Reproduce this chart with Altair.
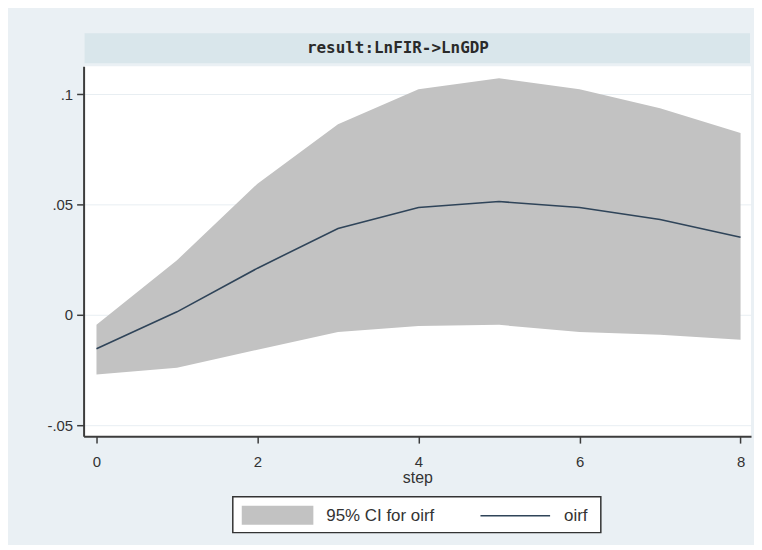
import altair as alt
import pandas as pd

# ---- data ----
steps = [0, 1, 2, 3, 4, 5, 6, 7, 8]
oirf = [-0.0153, 0.0014, 0.0212, 0.0392, 0.0487, 0.0514, 0.0487, 0.0433, 0.0352]
ci_upper = [-0.0045, 0.0248, 0.0595, 0.0865, 0.1023, 0.1073, 0.1023, 0.0937, 0.0825]
ci_lower = [-0.0270, -0.0239, -0.0158, -0.0077, -0.0050, -0.0045, -0.0077, -0.0090, -0.0113]

x_ticks = [0, 2, 4, 6, 8]
y_ticks = [-0.05, 0, 0.05, 0.1]
y_tick_labels = ["-.05", "0", ".05", ".1"]
panel_title = "result:LnFIR->LnGDP"
x_title = "step"
legend_labels = ["95% CI for oirf", "oirf"]

df = pd.DataFrame({"step": steps, "oirf": oirf, "lo": ci_lower, "hi": ci_upper})
one = pd.DataFrame({"t": [panel_title]})

W, H = 671, 372
x_scale = alt.Scale(domain=[-0.16, 8.13], nice=False, zero=False)
y_scale = alt.Scale(domain=[-0.05496, 0.1128], nice=False, zero=False)

label_expr = ""
for v, lab in zip(y_ticks, y_tick_labels):
    label_expr += f"abs(datum.value - ({v})) < 1e-9 ? '{lab}' : "
label_expr += "''"

axis_col = "#3c3c3c"

band = alt.Chart(df).mark_area(color="#c2c2c2", opacity=1).encode(
    x=alt.X("step:Q", scale=x_scale,
            axis=alt.Axis(values=x_ticks, format="d", title=x_title, grid=False,
                          labelFontSize=15, labelColor="#333", labelPadding=12,
                          tickSize=7, tickColor=axis_col, tickWidth=1.5,
                          domainColor=axis_col, domainWidth=2,
                          titleFontSize=16, titleFontWeight="normal",
                          titleColor="#333", titlePadding=0)),
    y=alt.Y("lo:Q", scale=y_scale,
            axis=alt.Axis(values=y_ticks, labelExpr=label_expr, title=None,
                          labelFontSize=15, labelColor="#333", labelPadding=4,
                          tickSize=7, tickColor=axis_col, tickWidth=1.5,
                          domainColor=axis_col, domainWidth=2,
                          grid=True, gridColor="#e8eef2", gridWidth=1)),
    y2="hi:Q",
)

line = alt.Chart(df).mark_line(color="#2f4459", strokeWidth=1.6).encode(
    x=alt.X("step:Q", scale=x_scale),
    y=alt.Y("oirf:Q", scale=y_scale),
)

strip = alt.Chart(one).mark_rect(fill="#d9e6eb").encode(
    x=alt.value(1), x2=alt.value(670), y=alt.value(-33), y2=alt.value(-3)
)
strip_text = alt.Chart(one).mark_text(
    font="DejaVu Sans Mono", fontSize=16, fontWeight="bold", color="#2a2a2a",
    baseline="middle", align="center"
).encode(x=alt.value(316), y=alt.value(-18), text="t:N")

leg_box = alt.Chart(one).mark_rect(fill="white", stroke="#333333", strokeWidth=1.5).encode(
    x=alt.value(150), x2=alt.value(520), y=alt.value(433), y2=alt.value(469)
)
leg_swatch = alt.Chart(one).mark_rect(fill="#c2c2c2").encode(
    x=alt.value(159), x2=alt.value(231), y=alt.value(442), y2=alt.value(461)
)
leg_text1 = alt.Chart(one).mark_text(
    fontSize=17, color="#333", align="left", baseline="middle"
).encode(x=alt.value(244), y=alt.value(452), text=alt.value(legend_labels[0]))
leg_line = alt.Chart(one).mark_rule(color="#2f4459", strokeWidth=1.6).encode(
    x=alt.value(399), x2=alt.value(469), y=alt.value(452)
)
leg_text2 = alt.Chart(one).mark_text(
    fontSize=17, color="#333", align="left", baseline="middle"
).encode(x=alt.value(483), y=alt.value(452), text=alt.value(legend_labels[1]))

chart = alt.layer(
    band, line, strip, strip_text, leg_box, leg_swatch, leg_text1, leg_line, leg_text2
).properties(
    width=W, height=H,
    autosize=alt.AutoSizeParams(type="none"),
    padding={"left": 76, "top": 57, "right": 3, "bottom": 108},
    background="#eaf0f4",
).configure(font="Liberation Sans").configure_view(fill="white", strokeWidth=0)

chart.save("out.html", embed_options={"renderer": "svg", "actions": False})
